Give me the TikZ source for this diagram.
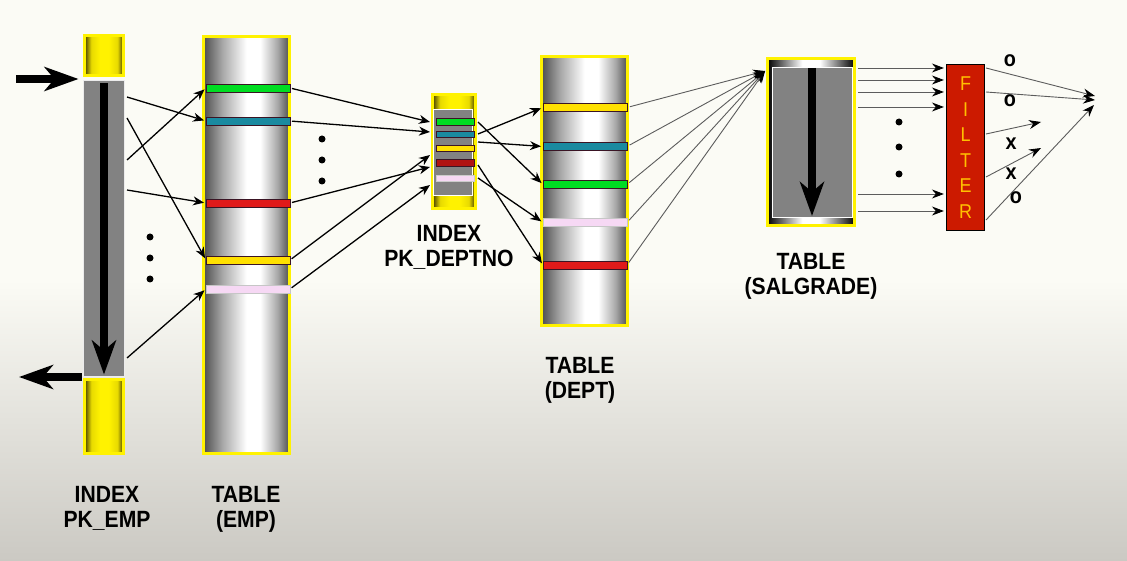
\documentclass[tikz,border=0pt]{standalone}
\usepackage{fontspec}
\setmainfont{Liberation Sans}[FakeStretch=0.9]
\usetikzlibrary{arrows.meta}
\definecolor{bgtop}{HTML}{FBFBF5}
\definecolor{bgbot}{HTML}{CBC9C3}
\definecolor{ybright}{HTML}{FFF200}
\definecolor{ymid}{HTML}{E8DA00}
\definecolor{ydark}{HTML}{3A3400}
\definecolor{cyldark}{HTML}{4E4E4E}
\definecolor{cylmid}{HTML}{A8A8A8}
\definecolor{bodygray}{HTML}{828282}
\definecolor{bgreen}{HTML}{00DD22}
\definecolor{bblue}{HTML}{1A8AA0}
\definecolor{bred}{HTML}{E01A1A}
\definecolor{bdred}{HTML}{B01212}
\definecolor{byellow}{HTML}{FFE000}
\definecolor{bpink}{HTML}{F6D8F4}
\definecolor{bedge}{HTML}{3A1424}
\definecolor{filterred}{HTML}{CC1A00}
\definecolor{filtertext}{HTML}{FFC000}
\definecolor{thingray}{HTML}{5C5C5C}
\pgfdeclarehorizontalshading{graycyl}{100bp}{color(0bp)=(cyldark); color(25bp)=(cyldark); color(36bp)=(cylmid); color(50bp)=(white); color(58bp)=(white); color(68bp)=(cylmid); color(75bp)=(cyldark); color(100bp)=(cyldark)}
\pgfdeclarehorizontalshading{yellowcyl}{100bp}{color(0bp)=(ydark); color(25bp)=(ydark); color(34bp)=(ymid); color(45bp)=(ybright); color(56bp)=(ybright); color(67bp)=(ymid); color(75bp)=(ydark); color(100bp)=(ydark)}
\pgfdeclarehorizontalshading{capshade}{100bp}{color(0bp)=(black); color(25bp)=(black); color(45bp)=(white); color(55bp)=(white); color(75bp)=(black); color(100bp)=(black)}
\tikzset{
  frame/.style={shade, draw=ybright, line width=2.8pt, inner sep=0pt, outer sep=0pt},
  body/.style={draw=white!85!gray, line width=0.9pt, fill=bodygray, inner sep=0pt, outer sep=0pt},
  band/.style={draw=bedge, line width=0.8pt, minimum width=84pt, minimum height=8pt, inner sep=0pt, outer sep=0pt},
  sband/.style={draw=bedge, line width=0.8pt, minimum width=38pt, minimum height=6.5pt, inner sep=0pt, outer sep=0pt},
  arr/.style={line width=1.3pt, -{Stealth[length=11pt,width=9pt,inset=3.5pt]}},
  thinarr/.style={draw=thingray, line width=0.9pt, -{Stealth[length=12pt,width=9pt,inset=4pt,color=black]}},
  bigarr/.style={line width=7.5pt, -{Stealth[length=34pt,width=24pt,inset=10pt]}},
  lbl/.style={font=\fontsize{23.5}{25.5}\selectfont\bfseries, align=center, anchor=north, inner sep=0pt},
  mark label/.style={font=\fontsize{22}{22}\selectfont\bfseries, inner sep=0pt},
  vdot/.style={circle, fill=black, inner sep=0pt, minimum size=7pt},
}
\begin{document}
\begin{tikzpicture}[x=1pt,y=-1pt]
\useasboundingbox (0,0) rectangle (1127,561);
\fill[bgtop] (0,0) rectangle (1127,561);
\shade[top color=bgtop, bottom color=bgbot] (0,280) rectangle (1127,561);

% ---------- INDEX PK_EMP ----------
\node[frame, shading=yellowcyl, minimum width=39.5pt, minimum height=40.5pt] (pet) at (104,55.5) {};
\node[body, minimum width=41pt, minimum height=296pt] (pe) at (104,228.5) {};
\node[frame, shading=yellowcyl, minimum width=39.5pt, minimum height=74.5pt] (peb) at (104,416.5) {};
\draw[bigarr, shorten <=3pt, shorten >=2pt] (pe.north) -- (pe.south);
\coordinate (inL) at (16,79);
\coordinate (outL) at (19,377);
\draw[bigarr, shorten >=5pt] (inL) -- (inL -| pe.west);
\draw[bigarr, shorten <=2pt] (outL -| pe.west) -- (outL);

% ---------- TABLE EMP ----------
\node[frame, shading=graycyl, minimum width=86pt, minimum height=417pt] (emp) at (246.5,245) {};
\node[band, fill=bgreen] (eG) at (248,88) {};
\node[band, fill=bblue] (eB) at (248,121) {};
\node[band, fill=bred] (eR) at (248,203) {};
\node[band, fill=byellow] (eY) at (248,260) {};
\node[band, fill=bpink, draw=gray!45] (eP) at (248,289) {};

\coordinate (p1) at (127,97);
\coordinate (p2) at (127,118);
\coordinate (p3) at (127,160);
\coordinate (p4) at (127,190);
\coordinate (p5) at (127,358);
\draw[arr, shorten >=2pt] (p1) -- (eB.west);
\draw[arr, shorten >=2pt] (p2) -- (eY.west);
\draw[arr, shorten >=2pt] (p3) -- (eG.west);
\draw[arr, shorten >=2pt] (p4) -- (eR.west);
\draw[arr, shorten >=2pt] (p5) -- (eP.west);
\node[vdot] (d1a) at (150,237) {};
\node[vdot] (d1b) at (150,258) {};
\node[vdot] (d1c) at (150,279) {};

% ---------- INDEX PK_DEPTNO ----------
\node[frame, shading=yellowcyl, minimum width=43.5pt, minimum height=114.5pt] (idx) at (454,151.5) {};
\node[body, draw=white, minimum width=39pt, minimum height=86pt] (idxb) at (452.5,152) {};
\node[sband, fill=bgreen] (iG) at (455,122) {};
\node[sband, fill=bblue] (iB) at (455,134.5) {};
\node[sband, fill=byellow] (iY) at (455,148.5) {};
\node[sband, fill=bdred] (iR) at (455,163) {};
\node[sband, fill=bpink, draw=gray!40] (iP) at (455,178.5) {};

\coordinate (q1) at (430,122);
\coordinate (q2) at (430,132);
\coordinate (q3) at (430,167);
\coordinate (q4) at (430,155);
\coordinate (q5) at (430,185);
\draw[arr, shorten <=2pt] (eG.east) -- (q1);
\draw[arr, shorten <=2pt] (eB.east) -- (q2);
\draw[arr, shorten <=2pt] (eR.east) -- (q3);
\draw[arr, shorten <=2pt] (eY.east) -- (q4);
\draw[arr, shorten <=2pt] (eP.east) -- (q5);
\node[vdot] (d2a) at (322,139) {};
\node[vdot] (d2b) at (322,160) {};
\node[vdot] (d2c) at (322,181) {};

% ---------- TABLE DEPT ----------
\node[frame, shading=graycyl, minimum width=86pt, minimum height=269pt] (dept) at (584.5,191) {};
\node[band, fill=byellow] (tY) at (585,107.5) {};
\node[band, fill=bblue] (tB) at (585,146.5) {};
\node[band, fill=bgreen] (tG) at (585,184.5) {};
\node[band, fill=bpink, draw=gray!45] (tP) at (585,222.5) {};
\node[band, fill=bred] (tR) at (585,265) {};

\coordinate (r1) at (478,122);
\coordinate (r2) at (478,134);
\coordinate (r3) at (478,142);
\coordinate (r4) at (478,165);
\coordinate (r5) at (478,178);
\draw[arr, shorten >=2pt] (r1) -- (tG.west);
\draw[arr, shorten >=2pt] (r2) -- (tY.west);
\draw[arr, shorten >=2pt] (r3) -- (tB.west);
\draw[arr, shorten >=2pt] (r4) -- (tR.west);
\draw[arr, shorten >=2pt] (r5) -- (tP.west);

% ---------- TABLE SALGRADE ----------
\node[frame, shading=capshade, minimum width=87.5pt, minimum height=167pt] (sal) at (811,142) {};
\node[body, draw=white, minimum width=80pt, minimum height=150pt] (salb) at (812,142) {};
\draw[bigarr, shorten <=1pt, shorten >=1pt] (salb.north) -- (salb.south);

\coordinate (s0) at (765,71);
\draw[thinarr, shorten <=3pt] (tY.east) -- (s0);
\draw[thinarr, shorten <=3pt] (tB.east) -- (s0);
\draw[thinarr, shorten <=3pt] (tG.east) -- (s0);
\draw[thinarr, shorten <=3pt] (tP.east) -- (s0);
\draw[thinarr, shorten <=3pt] (tR.east) -- (s0);

% ---------- FILTER ----------
\node[draw=black, line width=1.2pt, fill=filterred, minimum width=38pt, minimum height=166pt, inner sep=0pt,
      text=filtertext, font=\fontsize{20}{25.5}\selectfont, align=center] (flt) at (965.5,147.5) {F\\I\\L\\T\\E\\R};

\coordinate (f1) at (858,68);
\coordinate (f2) at (858,80);
\coordinate (f3) at (858,92);
\coordinate (f4) at (858,107);
\coordinate (f5) at (858,194);
\coordinate (f6) at (858,211);
\foreach \c in {f1,f2,f3,f4,f5,f6} {
  \draw[thinarr, shorten >=2pt] (\c) -- (\c -| flt.west);
}
\node[vdot] (d3a) at (899,122) {};
\node[vdot] (d3b) at (899,147) {};
\node[vdot] (d3c) at (899,174) {};

\coordinate (g1) at (986,68);
\coordinate (g2) at (986,92);
\coordinate (g3) at (986,134);
\coordinate (g4) at (986,177);
\coordinate (g5) at (986,220);
\coordinate (h1) at (1095,96);
\coordinate (h2) at (1095,100);
\coordinate (h3) at (1041,122);
\coordinate (h4) at (1041,148);
\coordinate (h5) at (1094,105);
\draw[thinarr] (g1) -- (h1);
\draw[thinarr] (g2) -- (h2);
\draw[thinarr] (g3) -- (h3);
\draw[thinarr] (g4) -- (h4);
\draw[thinarr] (g5) -- (h5);
\node[mark label] (m1) at (1010,61) {o};
\node[mark label] (m2) at (1010,101) {o};
\node[mark label] (m3) at (1011,144) {x};
\node[mark label] (m4) at (1011,174) {x};
\node[mark label] (m5) at (1016,198) {o};

% ---------- labels ----------
\node[lbl] (l1) at (107,486) {INDEX\\PK\_EMP};
\node[lbl] (l2) at (246,486) {TABLE\\(EMP)};
\node[lbl] (l3) at (449,225) {INDEX\\PK\_DEPTNO};
\node[lbl] (l4) at (580,357) {TABLE\\(DEPT)};
\node[lbl] (l5) at (811,253) {TABLE\\(SALGRADE)};
\end{tikzpicture}
\end{document}
